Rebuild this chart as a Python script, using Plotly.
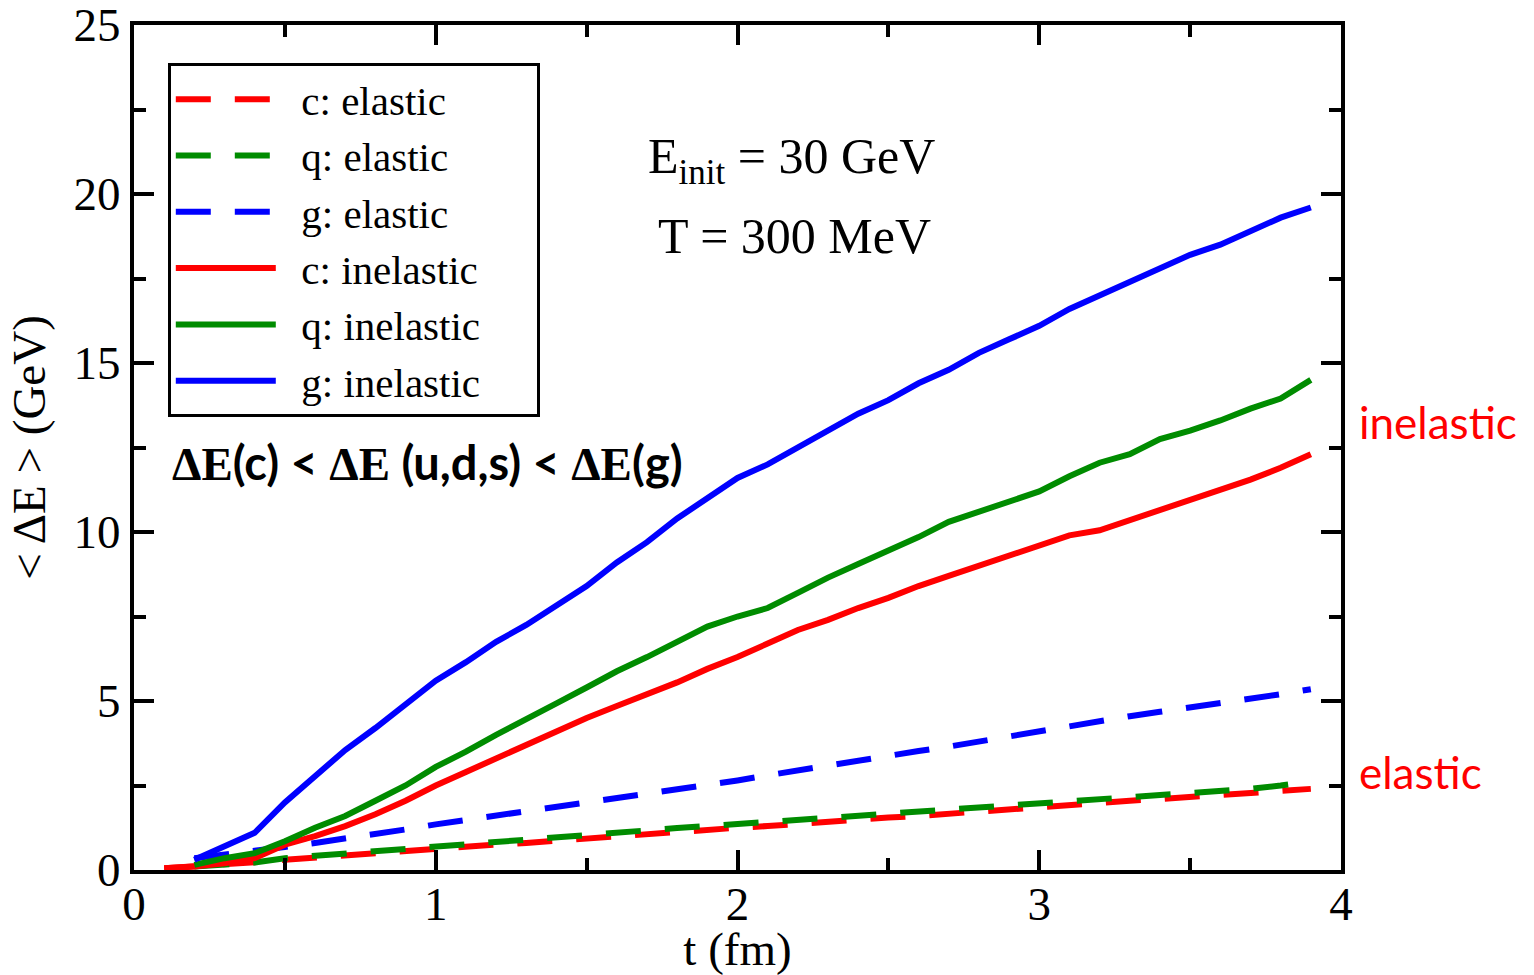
import plotly.graph_objects as go

# ---------------- data ----------------
t_c = [round(0.1 * i, 1) for i in range(1, 40)]   # 0.1 .. 3.9
t_q = [round(0.1 * i, 1) for i in range(2, 40)]   # 0.2 .. 3.9
t_g = [round(0.1 * i, 1) for i in range(2, 40)]   # 0.2 .. 3.9

c_elastic = [0.05, 0.1, 0.17, 0.23, 0.3, 0.37, 0.43, 0.5, 0.55, 0.62, 0.68, 0.75, 0.8, 0.87,
             0.93, 1.0, 1.06, 1.12, 1.18, 1.25, 1.3, 1.37, 1.43, 1.49, 1.55, 1.6, 1.67, 1.73,
             1.8, 1.87, 1.93, 1.99, 2.05, 2.1, 2.16, 2.22, 2.27, 2.33, 2.4]
q_elastic = [0.1, 0.15, 0.22, 0.35, 0.42, 0.5, 0.57, 0.64, 0.72, 0.78, 0.85, 0.92, 0.98, 1.05,
             1.12, 1.18, 1.24, 1.3, 1.36, 1.42, 1.48, 1.54, 1.6, 1.65, 1.71, 1.77, 1.83, 1.9,
             1.97, 2.03, 2.09, 2.15, 2.21, 2.27, 2.33, 2.4, 2.5, 2.62]
g_elastic = [0.35, 0.45, 0.55, 0.68, 0.8, 0.92, 1.05, 1.2, 1.35, 1.48, 1.6, 1.72, 1.85, 1.98,
             2.1, 2.22, 2.35, 2.5, 2.65, 2.8, 2.95, 3.1, 3.25, 3.4, 3.52, 3.65, 3.8, 3.95,
             4.12, 4.28, 4.42, 4.55, 4.68, 4.8, 4.92, 5.05, 5.2, 5.35]
c_inelastic = [0.05, 0.1, 0.2, 0.35, 0.75, 1.0, 1.3, 1.65, 2.05, 2.5, 2.9, 3.3, 3.7, 4.1,
               4.5, 4.85, 5.2, 5.55, 5.95, 6.3, 6.7, 7.1, 7.4, 7.75, 8.05, 8.4, 8.7, 9.0,
               9.3, 9.6, 9.9, 10.05, 10.35, 10.65, 10.95, 11.25, 11.55, 11.9, 12.3]
q_inelastic = [0.15, 0.35, 0.5, 0.85, 1.25, 1.6, 2.05, 2.5, 3.05, 3.5, 4.0, 4.45, 4.93, 5.4,
               5.88, 6.3, 6.75, 7.2, 7.5, 7.75, 8.2, 8.65, 9.05, 9.45, 9.85, 10.3, 10.6, 10.9,
               11.2, 11.65, 12.05, 12.3, 12.75, 13.0, 13.3, 13.65, 13.95, 14.5]
g_inelastic = [0.3, 0.7, 1.1, 2.0, 2.8, 3.55, 4.2, 4.9, 5.6, 6.15, 6.75, 7.25, 7.8, 8.4,
               9.1, 9.7, 10.4, 11.0, 11.6, 12.0, 12.5, 13.0, 13.5, 13.9, 14.4, 14.8, 15.3, 15.7,
               16.1, 16.6, 17.0, 17.4, 17.8, 18.2, 18.5, 18.9, 19.3, 19.6]

series = [
    ("c: elastic", t_c, c_elastic, "#ff0000", "35px,24px"),
    ("q: elastic", t_q, q_elastic, "#008c00", "35px,24px"),
    ("g: elastic", t_g, g_elastic, "#0000ff", "35px,24px"),
    ("c: inelastic", t_c, c_inelastic, "#ff0000", "solid"),
    ("q: inelastic", t_q, q_inelastic, "#008c00", "solid"),
    ("g: inelastic", t_g, g_inelastic, "#0000ff", "solid"),
]

x_ticks = [0, 1, 2, 3, 4]
y_ticks = [0, 5, 10, 15, 20, 25]

SERIF = "Liberation Serif"
SANS = "Lato"
GAP = "\u00a0\u00a0"
TAIL = "\u00a0" * 5

fig = go.Figure()
for name, x, y, col, dash in series:
    fig.add_trace(go.Scatter(x=x, y=y, mode="lines", name=GAP + name + TAIL,
                             line=dict(color=col, width=6, dash=dash)))

axis_common = dict(
    showline=True, linecolor="black", linewidth=4, mirror="allticks",
    ticks="inside", ticklen=20, tickwidth=4, tickcolor="black",
    showgrid=False, zeroline=False, automargin=False,
    ticklabeloverflow="allow",
    tickfont=dict(family=SERIF, size=47, color="black"),
)

fig.update_layout(
    width=1534, height=975,
    margin=dict(l=134, r=193, t=25, b=105),
    paper_bgcolor="white", plot_bgcolor="white",
    font=dict(family=SERIF, color="black"),
    xaxis=dict(range=[0, 4], tickvals=x_ticks, ticktext=[str(v) for v in x_ticks],
               minor=dict(dtick=0.5, ticks="inside", ticklen=12, tickwidth=4, tickcolor="black"),
               ticklabelstandoff=-10,
               title=dict(text="t (fm)", font=dict(family=SERIF, size=47), standoff=4),
               **axis_common),
    yaxis=dict(range=[0, 25], tickvals=y_ticks, ticktext=[str(v) for v in y_ticks],
               minor=dict(dtick=2.5, ticks="inside", ticklen=12, tickwidth=4, tickcolor="black"),
               title=dict(text="< ΔE > (GeV)", font=dict(family=SERIF, size=47), standoff=14),
               **axis_common),
    legend=dict(x=0.028, y=0.955, xanchor="left", yanchor="top",
                bgcolor="white", bordercolor="black", borderwidth=3,
                font=dict(family=SERIF, size=41, color="black"),
                itemwidth=100, tracegroupgap=0),
    showlegend=True,
)

fig.add_annotation(x=0.545, y=0.840, xref="paper", yref="paper", yanchor="middle",
                   text="E<sub>init</sub> = 30 GeV", showarrow=False,
                   font=dict(family=SERIF, size=50, color="black"))
fig.add_annotation(x=0.547, y=0.750, xref="paper", yref="paper", yanchor="middle",
                   text="T = 300 MeV", showarrow=False,
                   font=dict(family=SERIF, size=50, color="black"))
fig.add_annotation(x=0.030, y=0.483, xref="paper", yref="paper", xanchor="left", yanchor="middle",
                   text=("<b><span style='font-family:Liberation Serif'>ΔE</span>(c) &lt; "
                         "<span style='font-family:Liberation Serif'>ΔE</span> (u,d,s) &lt; "
                         "<span style='font-family:Liberation Serif'>ΔE</span>(g)</b>"),
                   showarrow=False,
                   font=dict(family=SANS, size=47, color="black"))
fig.add_annotation(x=1.013, y=0.530, xref="paper", yref="paper", xanchor="left", yanchor="middle",
                   text="inelastic", showarrow=False,
                   font=dict(family=SANS, size=44, color="#ff0000"))
fig.add_annotation(x=1.013, y=0.116, xref="paper", yref="paper", xanchor="left", yanchor="middle",
                   text="elastic", showarrow=False,
                   font=dict(family=SANS, size=44, color="#ff0000"))

fig.write_html("out.html")
